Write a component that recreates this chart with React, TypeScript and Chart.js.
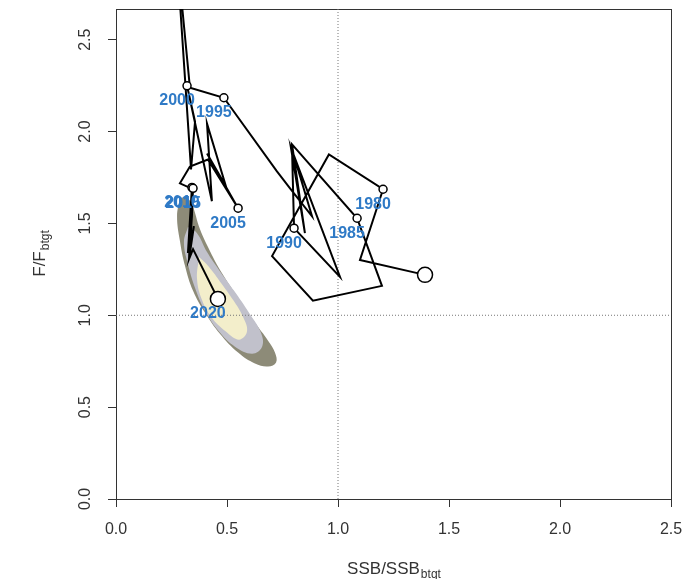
import React, { useEffect, useRef } from "react";
import { Chart, registerables } from "chart.js";

Chart.register(...registerables);

// ---- data ----
const years = [
  1978, 1979, 1980, 1981, 1982, 1983, 1984, 1985, 1986, 1987, 1988, 1989, 1990, 1991, 1992,
  1993, 1994, 1995, 1996, 1997, 1998, 1999, 2000, 2001, 2002, 2003, 2004, 2005, 2006, 2007,
  2008, 2009, 2010, 2011, 2012, 2013, 2014, 2015, 2016, 2017, 2018, 2019, 2020,
];
const ssbRatio = [
  1.392, 1.099, 1.203, 0.959, 0.703, 0.887, 1.198, 1.086, 0.793, 0.851, 0.788, 1.009, 0.802,
  0.793, 0.883, 0.784, 0.725, 0.486, 0.333, 0.27, 0.338, 0.356, 0.32, 0.432, 0.41, 0.495,
  0.41, 0.55, 0.414, 0.333, 0.288, 0.338, 0.342, 0.324, 0.338, 0.329, 0.342, 0.347, 0.333,
  0.351, 0.329, 0.347, 0.459,
];
const fRatio = [
  1.22, 1.301, 1.686, 1.875, 1.322, 1.079, 1.16, 1.528, 1.93, 1.447, 1.913, 1.209, 1.474,
  1.902, 1.539, 1.691, 1.783, 2.184, 2.238, 3.03, 1.794, 2.054, 2.249, 1.621, 2.043, 1.702,
  1.881, 1.583, 1.848, 1.81, 1.718, 1.691, 1.696, 1.339, 1.593, 1.306, 1.539, 1.691, 1.388,
  1.485, 1.306, 1.36, 1.089,
];
const labelledYears = [1980, 1985, 1990, 1995, 2000, 2005, 2010, 2015, 2020];

// uncertainty contours of the terminal year (outer, middle, inner)
const outerX = [0.288, 0.315, 0.342, 0.378, 0.423, 0.477, 0.55, 0.626, 0.685, 0.716, 0.721, 0.685, 0.626, 0.55, 0.468, 0.401, 0.347, 0.311, 0.288, 0.275];
const outerY = [1.637, 1.642, 1.604, 1.469, 1.35, 1.23, 1.095, 0.959, 0.862, 0.797, 0.743, 0.721, 0.737, 0.797, 0.9, 1.014, 1.133, 1.268, 1.404, 1.539];
const middleX = [0.324, 0.365, 0.41, 0.464, 0.532, 0.599, 0.653, 0.658, 0.613, 0.536, 0.464, 0.401, 0.356, 0.324, 0.306];
const middleY = [1.48, 1.447, 1.344, 1.247, 1.133, 1.014, 0.905, 0.829, 0.791, 0.829, 0.911, 1.024, 1.149, 1.279, 1.398];
const innerX = [0.374, 0.419, 0.473, 0.527, 0.572, 0.59, 0.554, 0.495, 0.428, 0.387, 0.365];
const innerY = [1.317, 1.263, 1.176, 1.084, 0.992, 0.911, 0.867, 0.911, 0.992, 1.084, 1.198];

const xTicks = [0, 0.5, 1.0, 1.5, 2.0, 2.5];
const yTicks = [0, 0.5, 1.0, 1.5, 2.0, 2.5];
const xRange = [0, 2.5];
const yRange = [0, 2.667];
const referenceValue = 1.0;

const FONT = '"Liberation Sans", Arial, Helvetica, sans-serif';

export default function App() {
  const canvasRef = useRef<HTMLCanvasElement | null>(null);

  useEffect(() => {
    const canvas = canvasRef.current;
    if (!canvas) return;

    const toPts = (xs: number[], ys: number[]) => xs.map((x, i) => ({ x, y: ys[i] }));
    const closed = (pts: { x: number; y: number }[]) => [...pts, pts[0]];
    const last = years.length - 1;
    const radii = years.map((yr, i) =>
      i === 0 || i === last ? 7.5 : labelledYears.includes(yr) ? 4 : 0
    );

    const yearLabels = {
      id: "yearLabels",
      afterDatasetsDraw(chart: any) {
        const meta = chart.getDatasetMeta(0);
        const ctx = chart.ctx;
        ctx.save();
        ctx.font = `bold 16px ${FONT}`;
        ctx.fillStyle = "#2F7AC6";
        ctx.textAlign = "center";
        ctx.textBaseline = "middle";
        years.forEach((yr, i) => {
          if (!labelledYears.includes(yr)) return;
          const p = meta.data[i];
          ctx.fillText(String(yr), p.x - 10, p.y + 15);
        });
        ctx.restore();
      },
    };

    const axisTitles = {
      id: "axisTitles",
      afterDraw(chart: any) {
        const ctx = chart.ctx;
        const a = chart.chartArea;
        const drawSub = (main: string, sub: string) => {
          ctx.font = `17px ${FONT}`;
          const w1 = ctx.measureText(main).width;
          ctx.font = `12px ${FONT}`;
          const w2 = ctx.measureText(sub).width;
          const start = -(w1 + w2) / 2;
          ctx.font = `17px ${FONT}`;
          ctx.fillText(main, start, 0);
          ctx.font = `12px ${FONT}`;
          ctx.fillText(sub, start + w1 + 1, 4);
        };
        ctx.save();
        ctx.fillStyle = "#333";
        ctx.textAlign = "left";
        ctx.textBaseline = "alphabetic";
        ctx.save();
        ctx.translate((a.left + a.right) / 2, 574);
        drawSub("SSB/SSB", "btgt");
        ctx.restore();
        ctx.save();
        ctx.translate(45, (a.top + a.bottom) / 2);
        ctx.rotate(-Math.PI / 2);
        drawSub("F/F", "btgt");
        ctx.restore();
        ctx.restore();
      },
    };

    const tickFmt = (v: any) => Number(v).toFixed(1);
    const noPad = (s: any) => {
      s.paddingTop = 0;
      s.paddingBottom = 0;
    };

    const contour = (label: string, xs: number[], ys: number[], color: string) => ({
      label,
      data: closed(toPts(xs, ys)),
      showLine: true,
      fill: "shape",
      backgroundColor: color,
      borderColor: "rgba(0,0,0,0)",
      borderWidth: 0,
      tension: 0.4,
      pointRadius: 0,
      xAxisID: "x",
      yAxisID: "y",
    });

    const chart = new Chart(canvas, {
      type: "scatter",
      data: {
        datasets: [
          {
            label: "trajectory",
            data: toPts(ssbRatio, fRatio),
            showLine: true,
            borderColor: "#000",
            borderWidth: 2,
            tension: 0,
            pointRadius: radii,
            pointHoverRadius: radii,
            pointBackgroundColor: "#fff",
            pointBorderColor: "#000",
            pointBorderWidth: 1.5,
            xAxisID: "x",
            yAxisID: "y",
          },
          {
            label: "refH",
            data: [
              { x: xRange[0], y: referenceValue },
              { x: xRange[1], y: referenceValue },
            ],
            showLine: true,
            borderColor: "#777",
            borderWidth: 1,
            borderDash: [1, 2],
            pointRadius: 0,
            xAxisID: "x",
            yAxisID: "y",
          },
          {
            label: "refV",
            data: [
              { x: referenceValue, y: yRange[0] },
              { x: referenceValue, y: yRange[1] },
            ],
            showLine: true,
            borderColor: "#777",
            borderWidth: 1,
            borderDash: [1, 2],
            pointRadius: 0,
            xAxisID: "x",
            yAxisID: "y",
          },
          contour("inner", innerX, innerY, "#F3EECB"),
          contour("middle", middleX, middleY, "#C1C1CB"),
          contour("outer", outerX, outerY, "#8D8B78"),
        ],
      },
      options: {
        animation: false,
        responsive: false,
        devicePixelRatio: 1,
        layout: { padding: 0 },
        plugins: {
          legend: { display: false },
          tooltip: { enabled: false },
          title: { display: false },
        },
        scales: {
          x: {
            type: "linear",
            position: "bottom",
            min: xRange[0],
            max: xRange[1],
            afterBuildTicks: (s: any) => {
              s.ticks = xTicks.map((v) => ({ value: v }));
            },
            afterFit: (s: any) => {
              s.height = 80;
            },
            grid: {
              display: true,
              drawOnChartArea: false,
              drawTicks: true,
              tickLength: 8,
              color: "#333",
              lineWidth: 1,
            },
            border: { display: true, color: "#333", width: 1 },
            ticks: {
              color: "#333",
              font: { size: 16, family: FONT },
              padding: 13,
              maxRotation: 0,
              autoSkip: false,
              callback: tickFmt,
            },
          },
          x2: {
            type: "linear",
            position: "top",
            min: xRange[0],
            max: xRange[1],
            afterFit: (s: any) => {
              s.height = 7;
            },
            grid: { display: false },
            border: { display: true, color: "#333", width: 1 },
            ticks: { display: false },
          },
          y: {
            type: "linear",
            position: "left",
            min: yRange[0],
            max: yRange[1],
            afterBuildTicks: (s: any) => {
              s.ticks = yTicks.map((v) => ({ value: v }));
            },
            afterFit: (s: any) => {
              s.width = 116;
              noPad(s);
            },
            grid: {
              display: true,
              drawOnChartArea: false,
              drawTicks: true,
              tickLength: 8,
              color: "#333",
              lineWidth: 1,
            },
            border: { display: true, color: "#333", width: 1 },
            ticks: {
              color: "#333",
              font: { size: 16, family: FONT },
              padding: 11,
              minRotation: 90,
              maxRotation: 90,
              crossAlign: "center",
              autoSkip: false,
              callback: tickFmt,
            },
          },
          y2: {
            type: "linear",
            position: "right",
            min: yRange[0],
            max: yRange[1],
            afterFit: (s: any) => {
              s.width = 28;
              noPad(s);
            },
            grid: { display: false },
            border: { display: true, color: "#333", width: 1 },
            ticks: { display: false },
          },
        },
      },
      plugins: [yearLabels, axisTitles],
    } as any);

    return () => chart.destroy();
  }, []);

  return (
    <div
      style={{
        position: "fixed",
        left: 0,
        top: 0,
        width: 699,
        height: 579,
        background: "#fff",
      }}
    >
      <canvas ref={canvasRef} width={699} height={579} style={{ width: 699, height: 579 }} />
    </div>
  );
}
